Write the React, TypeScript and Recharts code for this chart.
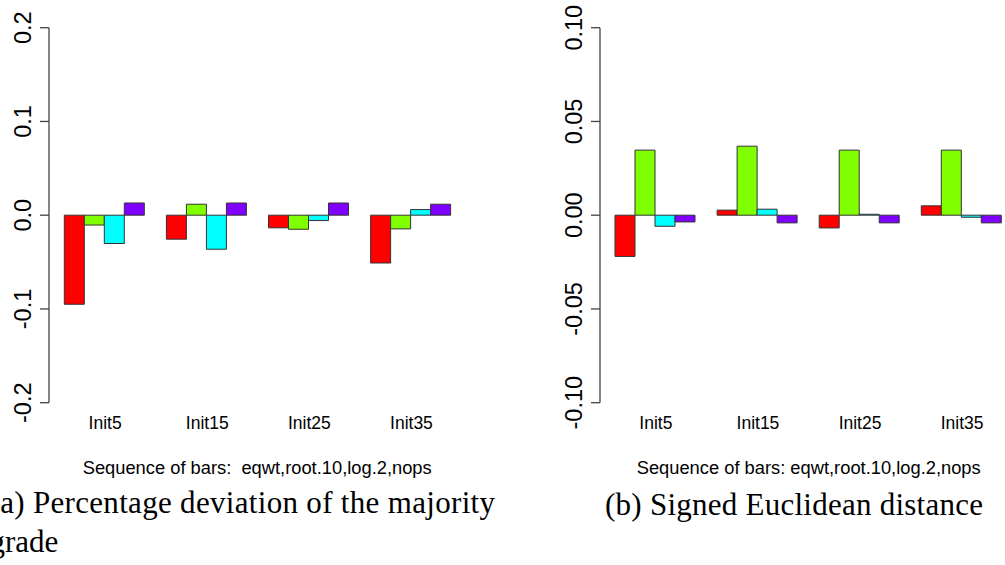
import { Bar, BarChart, XAxis, YAxis } from "recharts";

// categories and bar sequence
const INITS = ["Init5", "Init15", "Init25", "Init35"];
const SERIES = ["eqwt", "root.10", "log.2", "nops"];
const COLORS = ["#FF0000", "#80FF00", "#00FFFF", "#8000FF"];

// (a) percentage deviation of the majority grade
const EQWT_A = [-0.095, -0.0256, -0.0135, -0.051];
const ROOT10_A = [-0.0105, 0.0117, -0.015, -0.0146];
const LOG2_A = [-0.0302, -0.0363, -0.0057, 0.006];
const NOPS_A = [0.013, 0.013, 0.013, 0.0117];

// (b) signed euclidean distance
const EQWT_B = [-0.022, 0.0027, -0.0068, 0.005];
const ROOT10_B = [0.0347, 0.0368, 0.0347, 0.0347];
const LOG2_B = [-0.0059, 0.0032, 0.0005, -0.0011];
const NOPS_B = [-0.0036, -0.0041, -0.0041, -0.0041];

const TICKS_A = [-0.2, -0.1, 0, 0.1, 0.2];
const TICKS_B = [-0.1, -0.05, 0, 0.05, 0.1];

const FOOTER_A = "Sequence of bars:  eqwt,root.10,log.2,nops";
const FOOTER_B = "Sequence of bars: eqwt,root.10,log.2,nops";
const CAPTION_A = ["(a) Percentage deviation of the majority", "grade"];
const CAPTION_B = "(b) Signed Euclidean distance";

const SANS = "'Liberation Sans', Arial, sans-serif";
const SERIF = "'Liberation Serif', 'Times New Roman', serif";

function buildRows(cols: number[][]) {
  return INITS.map((cat, i) => {
    const row: Record<string, string | number> = { cat };
    SERIES.forEach((s, j) => {
      row[s] = cols[j][i];
    });
    return row;
  });
}

function makeYTick(digits: number) {
  return (props: any) => {
    const { x, y, payload } = props;
    const cx = x - 16.7;
    return (
      <text
        x={cx}
        y={y}
        transform={`rotate(-90 ${cx} ${y})`}
        textAnchor="middle"
        dominantBaseline="central"
        fontFamily={SANS}
        fontSize={23.5}
        fill="#000"
      >
        {Number(payload.value).toFixed(digits)}
      </text>
    );
  };
}

function XTick(props: any) {
  const { x, y, payload } = props;
  return (
    <text
      x={x}
      y={y + 26.6}
      textAnchor="middle"
      fontFamily={SANS}
      fontSize={17.5}
      fill="#000"
    >
      {payload.value}
    </text>
  );
}

function Panel({
  data,
  ticks,
  digits,
  yWidth,
  right,
  padLeft,
}: {
  data: Record<string, string | number>[];
  ticks: number[];
  digits: number;
  yWidth: number;
  right: number;
  padLeft: number;
}) {
  return (
    <BarChart
      width={470}
      height={440}
      data={data}
      margin={{ top: 27.7, right, bottom: 0, left: 0 }}
      barGap={0}
      barCategoryGap="10%"
    >
      <XAxis
        dataKey="cat"
        axisLine={false}
        tickLine={false}
        tickSize={0}
        tickMargin={0}
        height={37.3}
        interval={0}
        padding={{ left: padLeft, right: 0 }}
        tick={XTick}
      />
      <YAxis
        type="number"
        domain={[ticks[0], ticks[ticks.length - 1]]}
        ticks={ticks}
        interval={0}
        width={yWidth}
        tickSize={9}
        tickMargin={0}
        axisLine={{ stroke: "#444", strokeWidth: 1.3 }}
        tickLine={{ stroke: "#444", strokeWidth: 1.3 }}
        tick={makeYTick(digits)}
      />
      {SERIES.map((s, j) => (
        <Bar
          key={s}
          dataKey={s}
          fill={COLORS[j]}
          stroke="#333"
          strokeWidth={1}
          isAnimationActive={false}
        />
      ))}
    </BarChart>
  );
}

export default function App() {
  const dataA = buildRows([EQWT_A, ROOT10_A, LOG2_A, NOPS_A]);
  const dataB = buildRows([EQWT_B, ROOT10_B, LOG2_B, NOPS_B]);

  return (
    <div
      style={{
        position: "absolute",
        left: 0,
        top: 0,
        width: 1005,
        height: 565,
        overflow: "hidden",
        background: "#fff",
      }}
    >
      <div style={{ position: "absolute", left: 0, top: 0 }}>
        <Panel data={dataA} ticks={TICKS_A} digits={1} yWidth={49} right={7.5} padLeft={5.1} />
      </div>
      <div style={{ position: "absolute", left: 550, top: 0 }}>
        <Panel data={dataB} ticks={TICKS_B} digits={2} yWidth={50} right={6.8} padLeft={4.8} />
      </div>
      <svg
        width={1005}
        height={565}
        style={{ position: "absolute", left: 0, top: 0, pointerEvents: "none" }}
      >
        <text
          x={82.7}
          y={474}
          fontFamily={SANS}
          fontSize={17.5}
          textLength={349}
          lengthAdjust="spacingAndGlyphs"
          style={{ whiteSpace: "pre" }}
        >
          {FOOTER_A}
        </text>
        <text
          x={636.7}
          y={474}
          fontFamily={SANS}
          fontSize={17.5}
          textLength={344}
          lengthAdjust="spacingAndGlyphs"
          style={{ whiteSpace: "pre" }}
        >
          {FOOTER_B}
        </text>
        <text x={-10.5} y={513} fontFamily={SERIF} fontSize={31} textLength={505.5}>
          {CAPTION_A[0]}
        </text>
        <text x={-10.5} y={552} fontFamily={SERIF} fontSize={31}>
          {CAPTION_A[1]}
        </text>
        <text x={605} y={515} fontFamily={SERIF} fontSize={31} textLength={378}>
          {CAPTION_B}
        </text>
      </svg>
    </div>
  );
}
